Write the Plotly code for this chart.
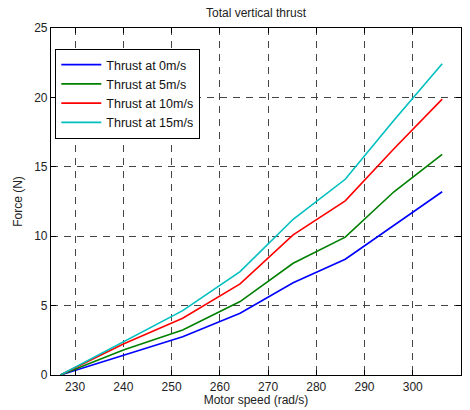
import plotly.graph_objects as go

# Motor speed samples (rad/s) shared by every airspeed case
motor_speed = [226.95, 240.0, 252.3, 264.2, 275.2, 286.0, 296.1, 306.1]

# Total vertical thrust (N) at each forward airspeed
thrust_0 = [0.0, 1.44, 2.76, 4.45, 6.65, 8.34, 10.8, 13.2]
thrust_5 = [0.0, 1.80, 3.24, 5.29, 8.05, 9.93, 13.2, 15.9]
thrust_10 = [0.0, 2.24, 4.09, 6.56, 10.09, 12.55, 16.3, 19.88]
thrust_15 = [0.0, 2.40, 4.64, 7.45, 11.22, 14.10, 18.35, 22.42]

series_names = ["Thrust at 0m/s", "Thrust at 5m/s", "Thrust at 10m/s", "Thrust at 15m/s"]
series_values = [thrust_0, thrust_5, thrust_10, thrust_15]
series_colors = ["#0000ff", "#008000", "#ff0000", "#00bfbf"]

x_ticks = [230, 240, 250, 260, 270, 280, 290, 300, 310]
y_ticks = [0, 5, 10, 15, 20, 25]

font_family = "Liberation Sans, Arial, sans-serif"

fig = go.Figure()
for name, vals, col in zip(series_names, series_values, series_colors):
    fig.add_trace(go.Scatter(
        x=motor_speed, y=vals, mode="lines", name=name,
        line=dict(color=col, width=1.6),
    ))

axis_common = dict(
    showline=True, linecolor="black", linewidth=1.2, mirror="ticks",
    ticks="inside", ticklen=5, tickcolor="black", tickwidth=1,
    showgrid=True, gridcolor="#444444", griddash="7px,6px", gridwidth=1,
    zeroline=False, automargin=False,
    tickfont=dict(family=font_family, size=12, color="#222222"),
)

fig.update_layout(
    width=470, height=410,
    margin=dict(l=51, r=9, t=28, b=35),
    paper_bgcolor="white", plot_bgcolor="white",
    font=dict(family=font_family, size=12, color="#222222"),
    title=dict(text="Total vertical thrust", x=0.5, xref="paper", y=0.968,
               yanchor="middle", font=dict(size=12, color="#222222")),
    xaxis=dict(range=[225, 310], tickvals=x_ticks,
               title=dict(text="Motor speed (rad/s)", standoff=2,
                          font=dict(size=12, color="#222222")),
               **axis_common),
    yaxis=dict(range=[0, 25], tickvals=y_ticks,
               title=dict(text="Force (N)", standoff=8,
                          font=dict(size=12, color="#222222")),
               **axis_common),
    legend=dict(x=0.01, y=0.94, xanchor="left", yanchor="top",
                bgcolor="white", bordercolor="black", borderwidth=1.2,
                font=dict(size=12.5, color="#111111"),
                tracegroupgap=0, itemwidth=40,
                entrywidthmode="pixels"),
    showlegend=True,
)

fig.write_html("out.html")
